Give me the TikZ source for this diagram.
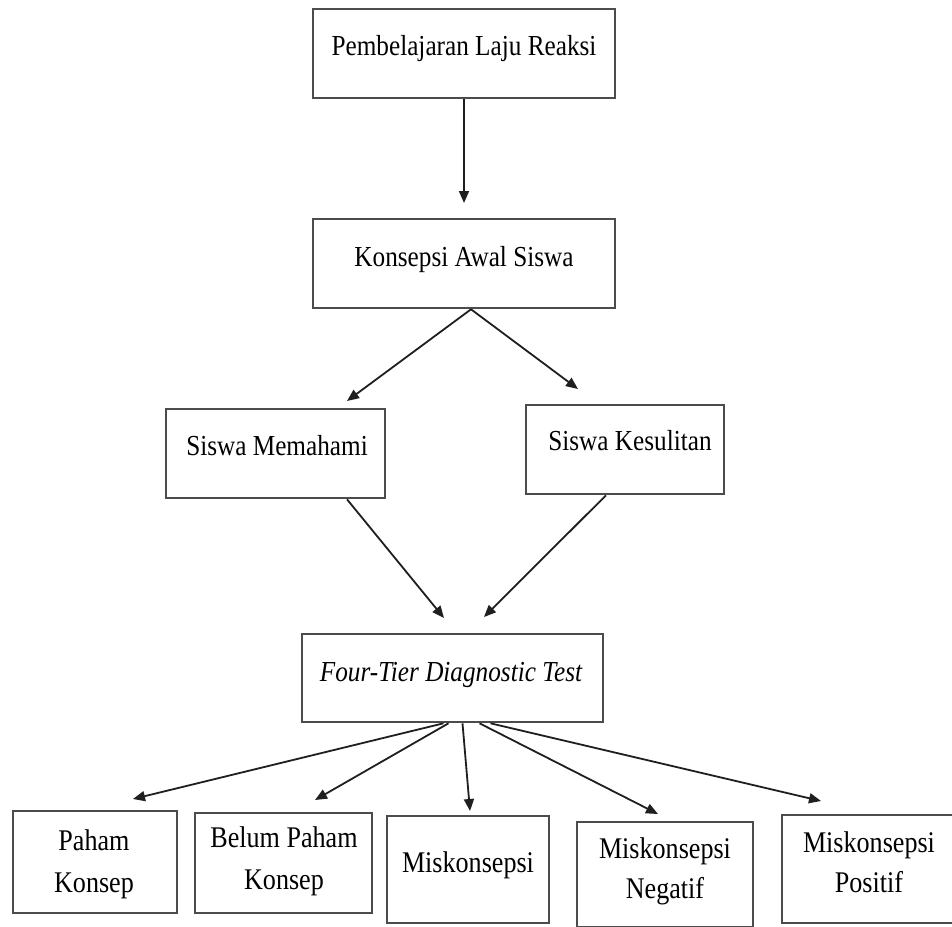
\documentclass[tikz,border=0pt]{standalone}
\usepackage{fontspec}
\setmainfont{Liberation Serif}[FakeStretch=0.87]
\usetikzlibrary{arrows.meta}
\tikzset{
  box/.style={draw=black!70, line width=2.6pt, inner sep=0pt, fill=white},
  txt/.style={anchor=base, inner sep=0pt, font=\fontsize{29}{35}\selectfont},
  txtb/.style={anchor=base, inner sep=0pt, font=\fontsize{30}{36}\selectfont},
  arr/.style={draw=black!88, line width=1.8pt, -{Triangle[length=12pt,width=10pt]}}
}
\begin{document}
\begin{tikzpicture}[x=1pt,y=-1pt]
\useasboundingbox (0,0) rectangle (952,926);
\fill[white] (0,0) rectangle (952,926);
% boxes
\node[box, minimum width=302pt, minimum height=89pt] (b1) at (464,53.5) {};
\node[box, minimum width=302pt, minimum height=89pt] (b2) at (464,263.5) {};
\node[box, minimum width=219pt, minimum height=89pt] (b3) at (275.5,453.5) {};
\node[box, minimum width=198pt, minimum height=89pt] (b4) at (625,449.5) {};
\node[box, minimum width=301pt, minimum height=88pt] (b5) at (452.5,678) {};
\node[box, minimum width=164pt, minimum height=102pt] (c1) at (95,862) {};
\node[box, minimum width=177pt, minimum height=100pt] (c2) at (283.5,863) {};
\node[box, minimum width=162pt, minimum height=107pt] (c3) at (468,869.5) {};
\node[box, minimum width=176pt, minimum height=105pt] (c4) at (665,874.5) {};
\node[box, minimum width=172pt, minimum height=108pt] (c5) at (868,869) {};
% texts
\node[txt] (t1) at (464,55) {Pembelajaran Laju Reaksi};
\node[txt] (t2) at (464,266) {Konsepsi Awal Siswa};
\node[txt] (t3) at (277,455) {Siswa Memahami};
\node[txt] (t4) at (630,450) {Siswa Kesulitan};
\node[txt] (t5) at (451,681) {\itshape Four-Tier Diagnostic Test};
\node[txtb] (t6a) at (94,850) {Paham};
\node[txtb] (t6b) at (94,892) {Konsep};
\node[txtb] (t7a) at (284,847) {Belum Paham};
\node[txtb] (t7b) at (284,889) {Konsep};
\node[txtb] (t8) at (468,872) {Miskonsepsi};
\node[txtb] (t9a) at (665,858) {Miskonsepsi};
\node[txtb] (t9b) at (665,898) {Negatif};
\node[txtb] (t10a) at (869,852) {Miskonsepsi};
\node[txtb] (t10b) at (869,892) {Positif};
% arrow end points
\coordinate (e12) at (464,203);
\coordinate (e23) at (347,401);
\coordinate (e24) at (578,389);
\coordinate (e35) at (444,618);
\coordinate (e45) at (484,617);
\coordinate (f1) at (133,799);
\coordinate (f2) at (315,800);
\coordinate (f3) at (470,811);
\coordinate (f4) at (658,814);
\coordinate (f5) at (821,801);
% connectors
\draw[arr] (b1.south) -- (e12);
\draw[arr] ([xshift=7pt]b2.south) -- (e23);
\draw[arr] ([xshift=7pt]b2.south) -- (e24);
\draw[arr] ([xshift=71.5pt]b3.south) -- (e35);
\draw[arr] ([xshift=-19pt]b4.south) -- (e45);
\draw[arr] ([xshift=-9pt]b5.south) -- (f1);
\draw[arr] ([xshift=-4pt]b5.south) -- (f2);
\draw[arr] ([xshift=10pt]b5.south) -- (f3);
\draw[arr] ([xshift=27pt]b5.south) -- (f4);
\draw[arr] ([xshift=38pt]b5.south) -- (f5);
\end{tikzpicture}
\end{document}
